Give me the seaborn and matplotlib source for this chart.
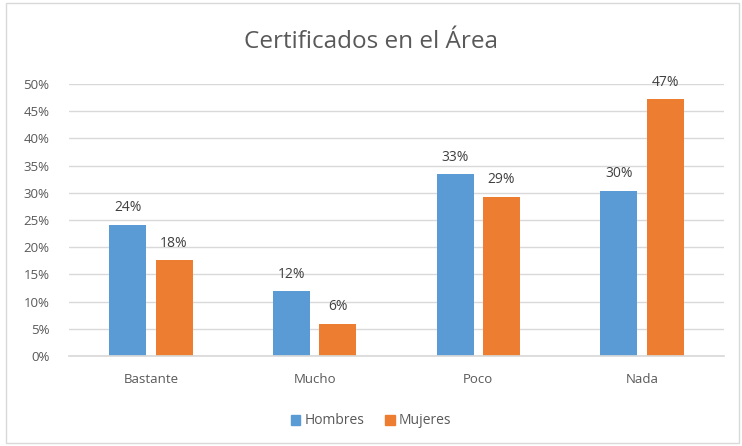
import matplotlib
matplotlib.use("Agg")
import matplotlib.pyplot as plt
import seaborn as sns
import pandas as pd
from matplotlib.patches import Rectangle
from matplotlib.ticker import FuncFormatter

categories = ["Bastante", "Mucho", "Poco", "Nada"]
hombres = [24.1, 11.9, 33.4, 30.4]
mujeres = [17.6, 5.9, 29.3, 47.2]
series = ["Hombres", "Mujeres"]
colors = ["#5B9BD5", "#ED7D31"]
yticks = [0, 5, 10, 15, 20, 25, 30, 35, 40, 45, 50]

df = pd.DataFrame({
    "cat": categories * 2,
    "serie": [series[0]] * 4 + [series[1]] * 4,
    "val": hombres + mujeres,
})

sns.set_theme(style="white")
plt.rcParams["font.family"] = ["Open Sans", "DejaVu Sans"]

fig = plt.figure(figsize=(7.42, 4.46), dpi=100)
ax = fig.add_axes([69 / 742, 1 - 356 / 446, (724 - 69) / 742, (356 - 84) / 446])

sns.barplot(data=df, x="cat", y="val", hue="serie", order=categories,
            hue_order=series, palette=colors, width=0.565, gap=0.2,
            saturation=1, ax=ax, legend=False, linewidth=0)

ax.set_ylim(0, 50)
ax.set_xlim(-0.5, 3.5)
ax.set_yticks(yticks)
ax.yaxis.set_major_formatter(FuncFormatter(lambda v, p: f"{v:.0f}%"))
ax.grid(axis="y", color="#D9D9D9", linewidth=1)
ax.set_axisbelow(True)
for s in ["top", "right", "left"]:
    ax.spines[s].set_visible(False)
ax.spines["bottom"].set_color("#D9D9D9")
ax.tick_params(axis="both", length=0, colors="#595959", labelsize=9.5)
ax.tick_params(axis="x", pad=12)
ax.tick_params(axis="y", pad=14)
ax.set_xlabel("")
ax.set_ylabel("")

for cont in ax.containers:
    ax.bar_label(cont, labels=[f"{v:.0f}%" for v in cont.datavalues],
                 padding=7, color="#404040", fontsize=10)

fig.text(0.5, 1 - 42 / 446, "Certificados en el Área", ha="center", va="center",
         fontsize=17.5, color="#595959")

handles = [Rectangle((0, 0), 1, 1, color=c) for c in colors]
fig.legend(handles, series, loc="center", bbox_to_anchor=(0.5, 1 - 421 / 446),
           ncol=2, frameon=False, handlelength=0.7, handleheight=0.7,
           handletextpad=0.3, columnspacing=1.5, fontsize=10,
           labelcolor="#595959")

fig.patches.append(Rectangle((6 / 742, 3 / 446), 733 / 742, 440 / 446,
                             transform=fig.transFigure, fill=False,
                             edgecolor="#D9D9D9", linewidth=1))

fig.savefig("out.png", dpi=100, facecolor="white")
